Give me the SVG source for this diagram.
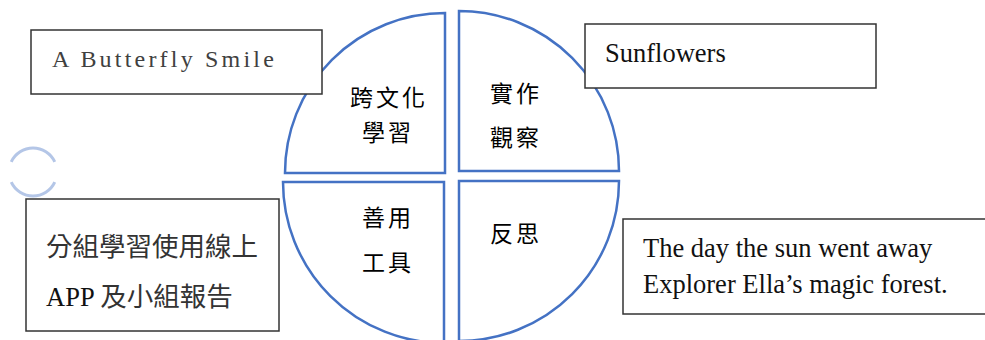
<svg xmlns="http://www.w3.org/2000/svg" width="985" height="340" viewBox="0 0 985 340">
<style>
.q{fill:#fff;stroke:#4472C4;stroke-width:2.5}
.box{fill:#fff;stroke:#333;stroke-width:1.5}
.cjk{font-family:"Noto Sans CJK TC","Noto Sans CJK SC",sans-serif;font-size:23px;fill:#000;letter-spacing:3px}
.en{font-family:"Liberation Serif","Noto Sans CJK TC",serif;font-size:26.5px;fill:#111}
.ring{fill:none;stroke:#B4C6E7;stroke-width:3}
</style>
<rect width="985" height="340" fill="#fff"/>
<g id="ring">
<path class="ring" d="M11.25,161.9 A24,24 0 0,1 54.75,161.9"/>
<path class="ring" d="M54.75,182.1 A24,24 0 0,1 11.25,182.1"/>
</g>
<g id="q-top-left">
<path class="q" d="M445,13 A160,160 0 0,0 285,173 L445,173 Z"/>
<text class="cjk" x="350" y="106">跨文化</text>
<text class="cjk" x="362" y="141">學習</text>
</g>
<g id="q-top-right">
<path class="q" d="M459,11 L459,171 L619,171 A160,160 0 0,0 459,11 Z"/>
<text class="cjk" x="490" y="102">實作</text>
<text class="cjk" x="490" y="146">觀察</text>
</g>
<g id="q-bottom-left">
<path class="q" d="M444,182 L283,182 A161,161 0 0,0 444,343 Z"/>
<text class="cjk" x="362" y="226">善用</text>
<text class="cjk" x="362" y="271">工具</text>
</g>
<g id="q-bottom-right">
<path class="q" d="M459,181 L619,181 A160,160 0 0,1 459,341 Z"/>
<text class="cjk" x="490" y="242">反思</text>
</g>
<g id="box-butterfly">
<rect class="box" x="31" y="30" width="291" height="64"/>
<text x="52" y="67" style="font-family:'Liberation Serif',serif;font-size:24px;fill:#404040;letter-spacing:3.2px">A Butterfly Smile</text>
</g>
<g id="box-sunflowers">
<rect class="box" x="585" y="24" width="291" height="64"/>
<text class="en" x="605" y="62">Sunflowers</text>
</g>
<g id="box-group">
<rect class="box" x="26" y="199" width="253" height="132"/>
<text x="46" y="256" style="font-family:'Noto Sans CJK TC','Noto Sans CJK SC',sans-serif;font-size:26.5px;fill:#333">分組學習使用線上</text>
<text class="en" x="46" y="306">APP <tspan style="font-family:'Noto Sans CJK TC','Noto Sans CJK SC',sans-serif;fill:#333">及小組報告</tspan></text>
</g>
<g id="box-books">
<rect class="box" x="623" y="219" width="380" height="95"/>
<text class="en" x="643" y="257">The day the sun went away</text>
<text class="en" x="643" y="293">Explorer Ella’s magic forest.</text>
</g>
<g id="connectors"></g>
</svg>
